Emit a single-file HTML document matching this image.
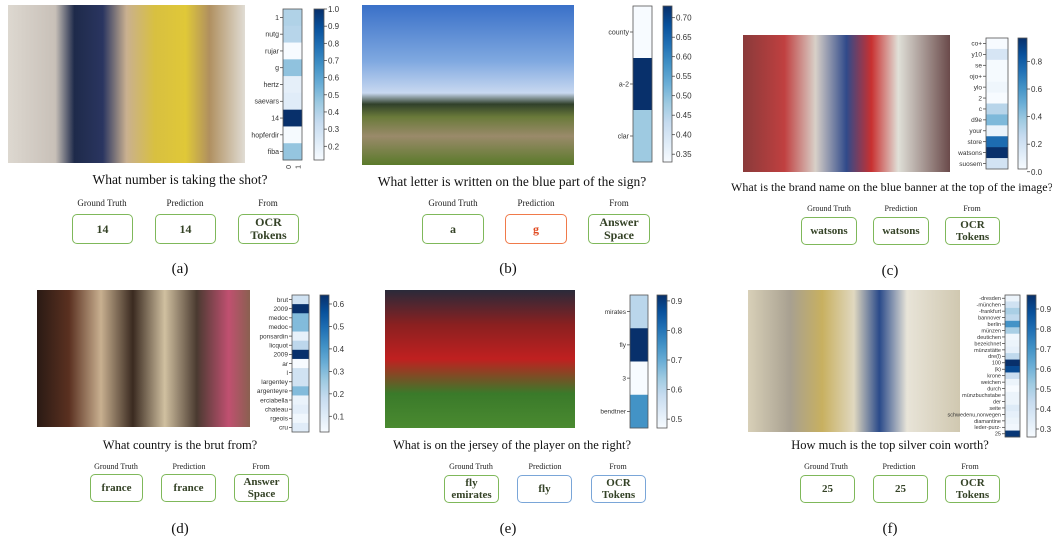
<!DOCTYPE html>
<html><head><meta charset="utf-8">
<style>
body{margin:0;width:1052px;height:541px;background:#fff;position:relative;overflow:hidden;font-family:"Liberation Serif",serif}
.ph{position:absolute}
.q{position:absolute;font-size:13.5px;color:#111;white-space:nowrap;transform:translateX(-50%)}
.lb{position:absolute;font-size:9px;color:#222;white-space:nowrap;transform:translateX(-50%)}
.bx{position:absolute;border:1.5px solid #7fb85a;border-radius:5px;box-sizing:border-box;display:flex;align-items:center;justify-content:center;text-align:center;font-weight:bold;font-size:12px;line-height:13px;color:#344226}
.bx.r{border-color:#f07a4a;color:#e04a20}
.bx.b{border-color:#7aa6d8}
.cap{position:absolute;font-size:15px;color:#111;transform:translateX(-50%)}
svg#hm{position:absolute;left:0;top:0}
</style></head><body>
<div class="ph" style="left:8px;top:5px;width:237px;height:158px;background:linear-gradient(90deg,#ddd8d0 0%,#c8c0b8 20%,#1e2a4a 28%,#2a3560 40%,#c9b090 50%,#d8c040 62%,#e0c838 75%,#b09060 85%,#e0dcd4 100%)"></div>
<div class="ph" style="left:362px;top:5px;width:212px;height:160px;background:linear-gradient(180deg,#3a70c8 0%,#7fa8e0 35%,#c8d8f0 55%,#30402a 62%,#6a7a3a 70%,#9a8a6a 82%,#5a7a2a 100%)"></div>
<div class="ph" style="left:743px;top:35px;width:207px;height:137px;background:linear-gradient(90deg,#8a3a3a,#c04040 20%,#d8d0c8 35%,#304a8a 50%,#c83030 62%,#e0e0d8 75%,#6a4a4a 100%)"></div>
<div class="ph" style="left:37px;top:290px;width:213px;height:137px;background:linear-gradient(90deg,#2a1a14 0%,#5a3020 15%,#c8b090 30%,#3a2a20 45%,#d0c0a0 60%,#4a3a30 75%,#c05070 90%,#8a6050 100%)"></div>
<div class="ph" style="left:385px;top:290px;width:190px;height:138px;background:linear-gradient(180deg,#2a2a3a 0%,#8a2020 25%,#c02020 50%,#3a7a2a 75%,#4a8a30 100%)"></div>
<div class="ph" style="left:748px;top:290px;width:212px;height:142px;background:linear-gradient(90deg,#d8d0b8 0%,#a8a090 20%,#c8b060 35%,#e0d8c0 50%,#2a4a8a 62%,#e8e4d8 75%,#d0c8b0 100%)"></div>

<svg id="hm" width="1052" height="541"></svg>

<div class="q" style="left:180px;top:172px">What number is taking the shot?</div>
<div class="q" style="left:512px;top:174px">What letter is written on the blue part of the sign?</div>
<div class="q" style="left:892px;top:180px;font-size:12px">What is the brand name on the blue banner at the top of the image?</div>
<div class="q" style="left:180px;top:438px;font-size:12.5px">What country is the brut from?</div>
<div class="q" style="left:512px;top:438px;font-size:12.5px">What is on the jersey of the player on the right?</div>
<div class="q" style="left:890px;top:438px;font-size:12.5px">How much is the top silver coin worth?</div>

<div class="lb" style="left:102px;top:198px">Ground Truth</div>
<div class="lb" style="left:185px;top:198px">Prediction</div>
<div class="lb" style="left:268px;top:198px">From</div>
<div class="bx" style="left:72px;top:214px;width:61px;height:30px">14</div>
<div class="bx" style="left:155px;top:214px;width:61px;height:30px">14</div>
<div class="bx" style="left:238px;top:214px;width:61px;height:30px">OCR<br>Tokens</div>

<div class="lb" style="left:453px;top:198px">Ground Truth</div>
<div class="lb" style="left:536px;top:198px">Prediction</div>
<div class="lb" style="left:619px;top:198px">From</div>
<div class="bx" style="left:422px;top:214px;width:62px;height:30px">a</div>
<div class="bx r" style="left:505px;top:214px;width:62px;height:30px">g</div>
<div class="bx" style="left:588px;top:214px;width:62px;height:30px">Answer<br>Space</div>

<div class="lb" style="left:829px;top:204px;font-size:8px">Ground Truth</div>
<div class="lb" style="left:901px;top:204px;font-size:8px">Prediction</div>
<div class="lb" style="left:972px;top:204px;font-size:8px">From</div>
<div class="bx" style="left:801px;top:217px;width:56px;height:28px;font-size:11px">watsons</div>
<div class="bx" style="left:873px;top:217px;width:56px;height:28px;font-size:11px">watsons</div>
<div class="bx" style="left:945px;top:217px;width:55px;height:28px;font-size:11px;line-height:12px">OCR<br>Tokens</div>

<div class="lb" style="left:116px;top:462px;font-size:8px">Ground Truth</div>
<div class="lb" style="left:189px;top:462px;font-size:8px">Prediction</div>
<div class="lb" style="left:261px;top:462px;font-size:8px">From</div>
<div class="bx" style="left:90px;top:474px;width:53px;height:28px;font-size:11px">france</div>
<div class="bx" style="left:161px;top:474px;width:55px;height:28px;font-size:11px">france</div>
<div class="bx" style="left:234px;top:474px;width:55px;height:28px;font-size:11px;line-height:12px">Answer<br>Space</div>

<div class="lb" style="left:471px;top:462px;font-size:8px">Ground Truth</div>
<div class="lb" style="left:545px;top:462px;font-size:8px">Prediction</div>
<div class="lb" style="left:618px;top:462px;font-size:8px">From</div>
<div class="bx" style="left:444px;top:475px;width:55px;height:28px;font-size:11px;line-height:12px">fly<br>emirates</div>
<div class="bx b" style="left:517px;top:475px;width:55px;height:28px;font-size:11px">fly</div>
<div class="bx b" style="left:591px;top:475px;width:55px;height:28px;font-size:11px;line-height:12px">OCR<br>Tokens</div>

<div class="lb" style="left:826px;top:462px;font-size:8px">Ground Truth</div>
<div class="lb" style="left:899px;top:462px;font-size:8px">Prediction</div>
<div class="lb" style="left:970px;top:462px;font-size:8px">From</div>
<div class="bx" style="left:800px;top:475px;width:55px;height:28px;font-size:11px">25</div>
<div class="bx" style="left:873px;top:475px;width:55px;height:28px;font-size:11px">25</div>
<div class="bx" style="left:945px;top:475px;width:55px;height:28px;font-size:11px;line-height:12px">OCR<br>Tokens</div>

<div class="cap" style="left:180px;top:261px">(a)</div>
<div class="cap" style="left:508px;top:261px">(b)</div>
<div class="cap" style="left:890px;top:263px">(c)</div>
<div class="cap" style="left:180px;top:521px">(d)</div>
<div class="cap" style="left:508px;top:521px">(e)</div>
<div class="cap" style="left:890px;top:521px">(f)</div>

<script>
const tokensA = ["1","nutg","rujar","g","hertz","saevars","14","hopferdir","fiba"];
const valuesA = [0.40,0.38,0.12,0.48,0.20,0.22,1.00,0.13,0.47];
const ticksA = [0.2,0.3,0.4,0.5,0.6,0.7,0.8,0.9,1.0];
const tokensB = ["county","a-2","clar"];
const valuesB = [0.33,0.73,0.48];
const ticksB = [0.35,0.40,0.45,0.50,0.55,0.60,0.65,0.70];
const tokensC = ["co+","y10","se","ojo+","ylo","2","c","d9e","your","store","watsons","suosem"];
const valuesC = [0.02,0.18,0.03,0.03,0.06,0.02,0.30,0.45,0.08,0.75,0.97,0.20];
const ticksC = [0.0,0.2,0.4,0.6,0.8];
const tokensD = ["brut","2009","medoc","medoc","ponsardin","licquot","2009","ar","l","largentey","argenteyre","erciabella","chateau","rgeois","cru"];
const valuesD = [0.15,0.64,0.30,0.30,0.08,0.20,0.64,0.03,0.15,0.15,0.30,0.07,0.09,0.05,0.10];
const ticksD = [0.1,0.2,0.3,0.4,0.5,0.6];
const tokensE = ["mirates","fly","3","bendtner"];
const valuesE = [0.60,0.92,0.47,0.75];
const ticksE = [0.5,0.6,0.7,0.8,0.9];
const tokensF = ["-dresden","-münchen","-frankfurt","bannover","berlin","münzen","deutichen","bezeichnet","münzstätte","dre(l)","100","(k)","krone","weichen","durch","münzbuchstabe","der","seite","schwedenu,norwegen","diamantine","leder-purz-","25"];
const valuesF = [0.30,0.40,0.50,0.45,0.70,0.50,0.28,0.30,0.32,0.45,0.97,0.90,0.42,0.30,0.26,0.30,0.30,0.35,0.32,0.30,0.28,0.95];
const ticksF = [0.3,0.4,0.5,0.6,0.7,0.8,0.9];

const stops=["#f7fbff","#deebf7","#c6dbef","#9ecae1","#6baed6","#4292c6","#2171b5","#08519c","#08306b"];
function hex(h){return [1,3,5].map(i=>parseInt(h.substr(i,2),16));}
function blues(t){t=Math.max(0,Math.min(1,t));const p=t*8,i=Math.min(7,Math.floor(p)),f=p-i;const a=hex(stops[i]),b=hex(stops[i+1]);return "rgb("+a.map((v,k)=>Math.round(v+(b[k]-v)*f)).join(",")+")";}
const NS="http://www.w3.org/2000/svg";
const svg=document.getElementById("hm");
function mk(tag,attrs){const e=document.createElementNS(NS,tag);for(const k in attrs)e.setAttribute(k,attrs[k]);svg.appendChild(e);return e;}
let gid=0;
function panel(id,tokens,values,ticks,L,fs,xticks){
  const vmin=Math.min(...values),vmax=Math.max(...values);
  const n=tokens.length,rh=(L.y1-L.y0)/n;
  const yScale=v=>L.y1-(v-vmin)/(vmax-vmin)*(L.y1-L.y0);
  values.forEach((v,i)=>{
    const r=mk("rect",{x:L.hx,y:L.y0+i*rh,width:L.hw,height:rh+0.3,fill:blues((v-vmin)/(vmax-vmin))});
    
    
    const cy=L.y0+(i+0.5)*rh;
    mk("line",{x1:L.hx-3,x2:L.hx,y1:cy,y2:cy,stroke:"#333","stroke-width":0.7});
    const t=mk("text",{x:L.hx-4,y:cy+fs*0.35,"text-anchor":"end","font-size":fs,fill:"#333","font-family":"Liberation Sans, DejaVu Sans, sans-serif"});
    t.textContent=tokens[i];
    
    
  });
  mk("rect",{x:L.hx,y:L.y0,width:L.hw,height:L.y1-L.y0,fill:"none",stroke:"#555","stroke-width":0.8});
  const g=mk("linearGradient",{id:"g"+(++gid),x1:0,y1:1,x2:0,y2:0});
  stops.forEach((s,i)=>{const st=document.createElementNS(NS,"stop");st.setAttribute("offset",i/8);st.setAttribute("stop-color",s);g.appendChild(st);});
  const cb=mk("rect",{x:L.cx,y:L.y0,width:L.cw,height:L.y1-L.y0,fill:"url(#g"+gid+")",stroke:"#555","stroke-width":0.8});
  
  
  ticks.forEach(tv=>{
    const y=yScale(tv);
    mk("line",{x1:L.cx+L.cw,x2:L.cx+L.cw+3,y1:y,y2:y,stroke:"#333","stroke-width":0.7});
    const t=mk("text",{x:L.cx+L.cw+4,y:y+3,"font-size":8,fill:"#333","font-family":"Liberation Sans, DejaVu Sans, sans-serif"});
    t.textContent=(tv.toFixed(L.dec));
    
    
  });
  if(xticks){
    ["0","1"].forEach((s,i)=>{const x=L.hx+L.hw*(i?0.75:0.25);
      const t=mk("text",{x:x+3,y:L.y1+5,"font-size":7,fill:"#333","font-family":"Liberation Sans, sans-serif",transform:`rotate(-90 ${x+3} ${L.y1+5})`,"text-anchor":"end"});
      t.textContent=s;});
  }
}
panel("a",tokensA,valuesA,ticksA,{hx:283,hw:19,y0:9,y1:160,cx:314,cw:10,dec:1},7,true);
panel("b",tokensB,valuesB,ticksB,{hx:633,hw:19,y0:6,y1:162,cx:663,cw:9,dec:2},7,false);
panel("c",tokensC,valuesC,ticksC,{hx:986,hw:22,y0:38,y1:169,cx:1018,cw:9,dec:1},6.5,false);
panel("d",tokensD,valuesD,ticksD,{hx:292,hw:17,y0:295,y1:432,cx:320,cw:9,dec:1},6.5,false);
panel("e",tokensE,valuesE,ticksE,{hx:630,hw:18,y0:295,y1:428,cx:657,cw:10,dec:1},6.5,false);
panel("f",tokensF,valuesF,ticksF,{hx:1005,hw:15,y0:295,y1:437,cx:1027,cw:9,dec:1},5.5,false);
</script>
</body></html>
